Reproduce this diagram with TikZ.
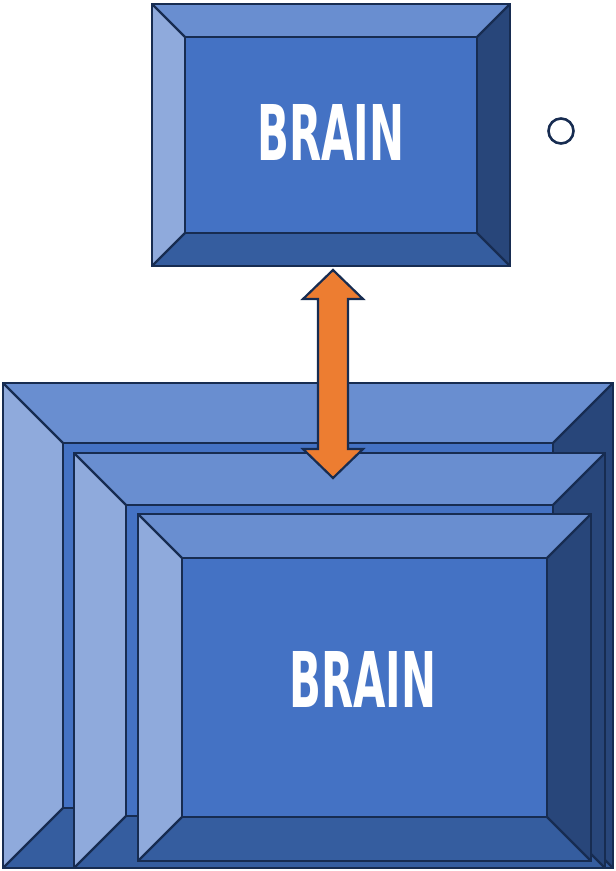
\documentclass[tikz,border=0pt]{standalone}
\usepackage{fontspec}
\setmainfont{DejaVu Sans}
\usepackage{graphicx}
\definecolor{face}{HTML}{4472C4}
\definecolor{topc}{HTML}{698ED0}
\definecolor{leftc}{HTML}{8FAADC}
\definecolor{rightc}{HTML}{28467A}
\definecolor{botc}{HTML}{355D9F}
\definecolor{edge}{HTML}{172C51}
\definecolor{orng}{HTML}{ED7D31}
\tikzset{
  outl/.style={draw=edge, line width=2.2pt, line join=miter},
  brain/.style={text=white, inner sep=0pt, font=\bfseries}
}
% x1,y1,x2,y2,bevel (y measured downward)
\newcommand{\bvbox}[5]{%
  \pgfmathsetmacro\bvxa{#1+#5}\pgfmathsetmacro\bvya{#2+#5}%
  \pgfmathsetmacro\bvxb{#3-#5}\pgfmathsetmacro\bvyb{#4-#5}%
  \fill[topc] (#1,#2) -- (#3,#2) -- (\bvxb,\bvya) -- (\bvxa,\bvya) -- cycle;
  \fill[leftc] (#1,#2) -- (\bvxa,\bvya) -- (\bvxa,\bvyb) -- (#1,#4) -- cycle;
  \fill[rightc] (#3,#2) -- (\bvxb,\bvya) -- (\bvxb,\bvyb) -- (#3,#4) -- cycle;
  \fill[botc] (#1,#4) -- (\bvxa,\bvyb) -- (\bvxb,\bvyb) -- (#3,#4) -- cycle;
  \fill[face] (\bvxa,\bvya) rectangle (\bvxb,\bvyb);
  \draw[outl] (#1,#2) rectangle (#3,#4);
  \draw[outl] (\bvxa,\bvya) rectangle (\bvxb,\bvyb);
  \draw[outl] (#1,#2) -- (\bvxa,\bvya) (#3,#2) -- (\bvxb,\bvya)
              (#1,#4) -- (\bvxa,\bvyb) (#3,#4) -- (\bvxb,\bvyb);
}
\begin{document}
\begin{tikzpicture}[x=1pt,y=-1pt]
\useasboundingbox (0,0) rectangle (616,871);
% top box
\bvbox{152}{4}{510}{266}{33}
\node[brain] (t1) at (331,132) {\resizebox{147pt}{56pt}{BRAIN}};
% circle
\draw[draw=edge, line width=2.6pt] (561,131) circle (12.5);
% stacked boxes
\bvbox{3}{383}{613}{868}{60}
\bvbox{74}{453}{605}{868}{52}
\bvbox{138}{514}{591}{861}{44}
\node[brain] (t2) at (363,679) {\resizebox{147pt}{56pt}{BRAIN}};
% double arrow
\draw[outl, fill=orng, line join=miter]
  (333,270) -- (363,299) -- (348,299) -- (348,449) -- (363,449) -- (333,478)
  -- (303,449) -- (318,449) -- (318,299) -- (303,299) -- cycle;
\end{tikzpicture}
\end{document}
